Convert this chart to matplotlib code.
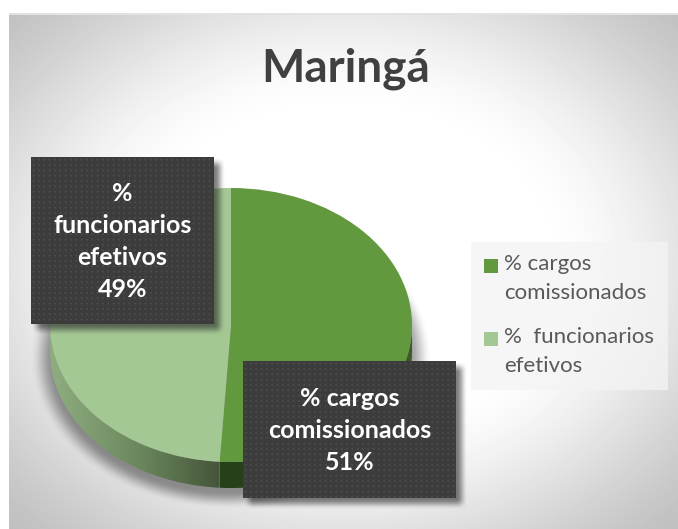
import numpy as np
import matplotlib
matplotlib.use("Agg")
import matplotlib.pyplot as plt
from matplotlib.colors import LinearSegmentedColormap
from matplotlib.patches import Polygon, Rectangle

TITLE = "Maringá"
categories = ["% cargos\ncomissionados", "%  funcionarios\nefetivos"]
box_labels = ["% cargos\ncomissionados\n51%", "%\nfuncionarios\nefetivos\n49%"]
values = [51, 49]
colors = ["#63993e", "#a4c894"]

W, H = 678, 529
FONT = "Lato"
fig = plt.figure(figsize=(W / 100, H / 100), dpi=100, facecolor="white")


def px_axes(z):
    a = fig.add_axes([0, 0, 1, 1], zorder=z)
    a.set_xlim(0, W)
    a.set_ylim(H, 0)
    a.axis("off")
    a.patch.set_alpha(0)
    return a


def smooth(v):
    v = np.clip(v, 0, 1)
    return v * v * (3 - 2 * v)


yy, xx = np.mgrid[0:H, 0:W] + 0.5

# Pie geometry, in pixels
cx, cy, rx, ry, depth = 231, 325, 181, 137, 26

# ---- background panel with radial gradient and pie shadow
bg_ax = px_axes(0)
r = np.sqrt(((xx - 345) / 340) ** 2 + ((yy - 265) / 265) ** 2)
grey = 255 - 68 * smooth((r - 0.55) / 1.0)
d = np.sqrt(((xx - cx) / (rx + 5)) ** 2 + ((yy - (cy + 32)) / (ry + 4)) ** 2)
grey = grey * (1 - 0.4 * smooth((1.08 - d) / 0.13))
grey[(xx < 9) | (yy < 13)] = 255
grey[(yy >= 13) & (yy < 15) & (xx >= 9)] = 226
bg_ax.imshow(grey, cmap="gray", vmin=0, vmax=255, extent=(0, W, H, 0),
             aspect="auto", interpolation="bilinear")
bg_ax.set_xlim(0, W)
bg_ax.set_ylim(H, 0)

# ---- pie: axes extends below the face so that the side wall fits
dy = depth / ry
pie_ax = fig.add_axes([(cx - rx) / W, 1 - (cy + ry + depth) / H,
                       2 * rx / W, (2 * ry + depth) / H], zorder=1)
wedges, _ = pie_ax.pie(values, colors=colors, startangle=90, counterclock=False,
                       radius=1, wedgeprops=dict(linewidth=0))
for w in wedges:
    w.set_zorder(5)

# side walls of the pie derive from the slice angles
boundary = 90 - 360 * values[0] / sum(values)
side_spans = [(boundary, 0, ["#26401a", "#27411a", "#3c5c26"]),
              (180, 360 + boundary, ["#8fae80", "#6d8a5f", "#45553a"])]
for t0, t1, cols in side_spans:
    t = np.radians(np.linspace(t0, t1, 120))
    pts = np.r_[np.c_[np.cos(t), np.sin(t)], np.c_[np.cos(t), np.sin(t) - dy][::-1]]
    xs = pts[:, 0]
    im = pie_ax.imshow(np.linspace(0, 1, 256)[None, :],
                       cmap=LinearSegmentedColormap.from_list("s", cols), aspect="auto",
                       extent=(xs.min(), xs.max(), -1 - dy, 0.1), zorder=2)
    poly = Polygon(pts, closed=True, transform=pie_ax.transData, fc="none", ec="none")
    pie_ax.add_patch(poly)
    im.set_clip_path(poly)
pie_ax.set_aspect("auto")
pie_ax.set_xlim(-1, 1)
pie_ax.set_ylim(-1 - dy, 1)
pie_ax.patch.set_alpha(0)

# ---- overlay: box shadows, boxes, texts, legend
ov = px_axes(2)
boxes = [(243, 361, 456, 498), (31, 157, 214, 324)]
shadow = np.zeros((H, W))
for x0, y0, x1, y1 in boxes:
    off, blur = 6, 11
    sx = smooth((xx - (x0 + off - blur / 2)) / blur) * smooth(((x1 + off + blur / 2) - xx) / blur)
    sy = smooth((yy - (y0 + off - blur / 2)) / blur) * smooth(((y1 + off + blur / 2) - yy) / blur)
    shadow = np.maximum(shadow, sx * sy * 0.6)
rgba = np.zeros((H, W, 4))
rgba[..., :3] = 0.16
rgba[..., 3] = shadow
ov.imshow(rgba, extent=(0, W, H, 0), aspect="auto", interpolation="bilinear", zorder=1)

for (x0, y0, x1, y1), label in zip(boxes, box_labels):
    h, w = y1 - y0, x1 - x0
    jj, ii = np.mgrid[0:h, 0:w] + 0.5
    tex = np.full((h, w), 60.0)
    tex += 16 * smooth(1.5 - np.hypot((ii % 5.33) - 2.67, (jj % 5.33) - 2.67))
    ov.imshow(tex, cmap="gray", vmin=0, vmax=255, extent=(x0, x1, y1, y0),
              aspect="auto", zorder=2, interpolation="nearest")
    ov.text((x0 + x1) / 2, (y0 + y1) / 2 + 1, label, color="white", family=FONT,
            fontweight="bold", fontsize=18, ha="center", va="center",
            linespacing=1.49, zorder=3)
ov.set_xlim(0, W)
ov.set_ylim(H, 0)

ov.text(346, 69, TITLE, family=FONT, fontweight="bold", fontsize=33, color="#404040",
        ha="center", va="center", zorder=3)

ov.add_patch(Rectangle((471, 242), 197, 148, fc="#f4f4f4", ec="none", alpha=0.75, zorder=1))
for i, (lab, col) in enumerate(zip(categories, colors)):
    top = 259 + i * 73
    ov.add_patch(Rectangle((484, top), 14, 14, fc=col, ec="none", zorder=3))
    ov.text(504, top - 5, lab, family=FONT, fontsize=16, color="#595959",
            ha="left", va="top", linespacing=1.58, zorder=3)

fig.savefig("out.png", dpi=100)
